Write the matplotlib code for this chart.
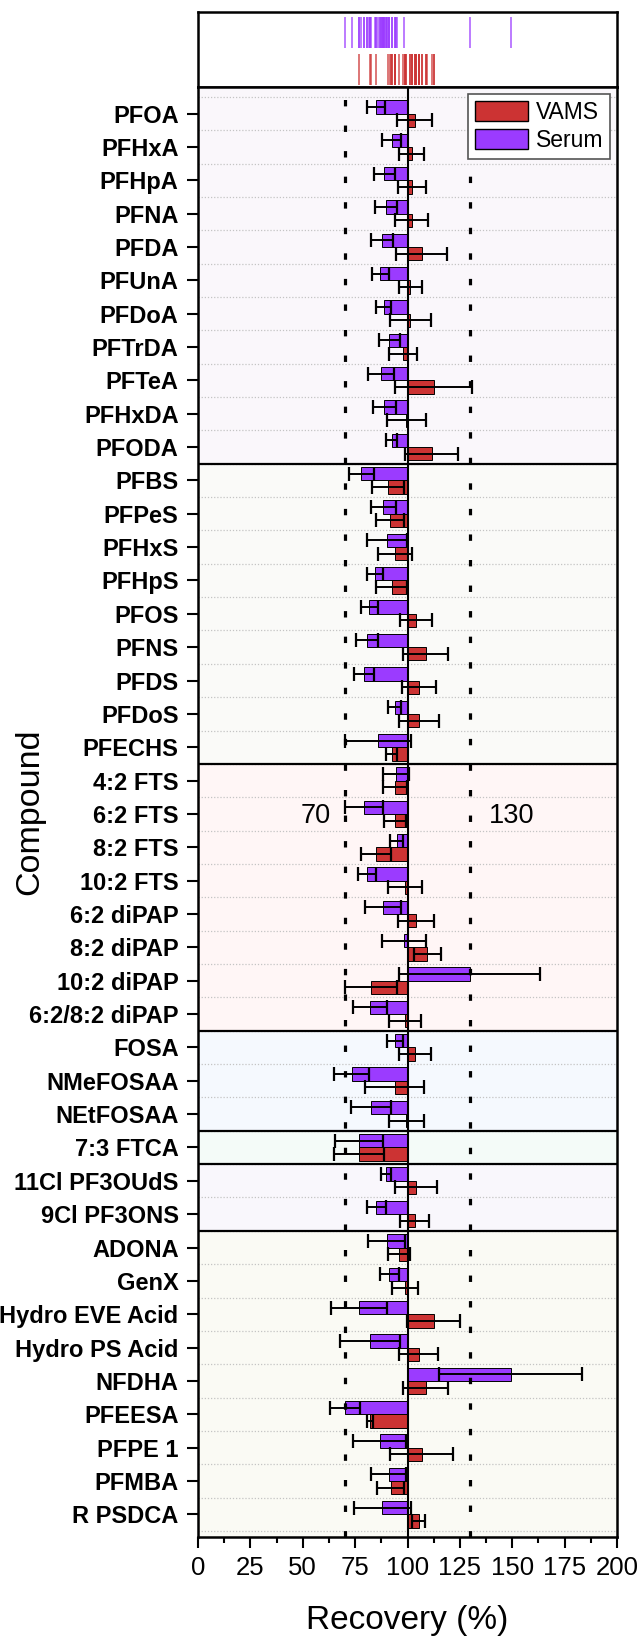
import numpy as np
import matplotlib
matplotlib.use("Agg")
import matplotlib.pyplot as plt
from matplotlib.patches import Patch

plt.rcParams['font.family'] = ['Liberation Sans', 'DejaVu Sans']

# compounds, top to bottom
compounds = ["PFOA", "PFHxA", "PFHpA", "PFNA", "PFDA", "PFUnA", "PFDoA", "PFTrDA",
             "PFTeA", "PFHxDA", "PFODA",
             "PFBS", "PFPeS", "PFHxS", "PFHpS", "PFOS", "PFNS", "PFDS", "PFDoS", "PFECHS",
             "4:2 FTS", "6:2 FTS", "8:2 FTS", "10:2 FTS", "6:2 diPAP", "8:2 diPAP",
             "10:2 diPAP", "6:2/8:2 diPAP",
             "FOSA", "NMeFOSAA", "NEtFOSAA",
             "7:3 FTCA",
             "11Cl PF3OUdS", "9Cl PF3ONS",
             "ADONA", "GenX", "Hydro EVE Acid", "Hydro PS Acid", "NFDHA", "PFEESA",
             "PFPE 1", "PFMBA", "R PSDCA"]

serum = [85.1, 92.4, 89.0, 89.8, 87.8, 87.0, 88.6, 91.4, 87.5, 89.0, 92.5,
         78.0, 88.4, 90.4, 84.7, 81.8, 80.6, 79.2, 93.9, 86.1,
         94.5, 79.2, 94.9, 80.6, 88.4, 98.4, 129.6, 82.0,
         93.9, 73.3, 82.5,
         76.9,
         89.8, 85.1,
         90.0, 91.4, 76.9, 82.0, 149.2, 70.0, 86.7, 91.0, 88.0]
serum_err = [4.2, 4.7, 5.1, 5.3, 5.1, 4.1, 3.7, 4.9, 6.2, 5.3, 2.6,
             5.9, 6.0, 9.5, 3.8, 4.1, 5.1, 4.9, 3.2, 15.7,
             6.4, 9.0, 3.1, 4.4, 8.5, 10.6, 33.6, 8.2,
             3.9, 8.5, 9.7,
             11.5,
             2.5, 4.6,
             8.9, 4.4, 13.2, 14.2, 34.2, 7.1, 12.5, 8.3, 13.7]
vams = [103.5, 102.0, 102.0, 102.0, 106.7, 101.4, 101.4, 97.8, 112.5, 99.5, 111.6,
        90.6, 91.6, 93.9, 92.4, 104.1, 108.6, 105.5, 105.5, 92.5,
        94.1, 93.9, 85.1, 98.8, 104.1, 109.4, 82.5, 98.8,
        103.5, 93.9, 99.5,
        76.9,
        104.1, 103.5,
        95.9, 98.8, 112.5, 105.3, 108.6, 82.2, 106.7, 92.0, 105.3]
vams_err = [8.3, 5.9, 6.7, 8.0, 12.0, 5.6, 9.6, 6.5, 18.3, 9.2, 12.7,
            7.5, 6.7, 8.1, 7.5, 7.8, 10.6, 8.0, 9.6, 2.6,
            5.7, 5.2, 7.1, 8.0, 8.5, 6.5, 12.3, 7.5,
            7.6, 14.2, 8.3,
            12.0,
            10.0, 7.0,
            5.1, 6.1, 12.7, 9.3, 10.9, 1.3, 15.0, 6.5, 3.2]

# compound classes (row counts) and their background shades
group_sizes = [11, 9, 8, 3, 1, 2, 9]
group_colors = ["#faf7fb", "#fafaf8", "#fff6f6", "#f5f9fe", "#f4fbf8", "#f9f7fc", "#fafaf4"]

xticks = [0, 25, 50, 75, 100, 125, 150, 175, 200]

red = "#cc3333"
purple = "#9b3bff"

W, H = 642, 1637
fig = plt.figure(figsize=(W / 100, H / 100), dpi=100)
L, R = 198, 617
ax_top = fig.add_axes([L / W, 1 - 87 / H, (R - L) / W, 74.5 / H])
ax = fig.add_axes([L / W, 1 - 1537 / H, (R - L) / W, (1537 - 86.5) / H])

n = len(compounds)
y = np.arange(n)

# background bands and class separators
start = 0
for size, col in zip(group_sizes, group_colors):
    ax.axhspan(start - 0.5 if start else -0.81, start + size - 0.5 if start + size < n else 42.68,
               color=col, zorder=0, lw=0)
    if start + size < n:
        ax.axhline(start + size - 0.5, color="black", lw=1.6, zorder=4)
    start += size

# dotted grid between rows
ax.hlines(np.arange(n + 1) - 0.5, 0, 200, colors="#c4c4c4", linestyles=(0, (1, 1.5)),
          lw=0.9, zorder=1)

err_kw = dict(ecolor="black", elinewidth=1.4, capsize=4.8, capthick=1.6, zorder=3)
ax.barh(y - 0.2, np.array(serum) - 100, left=100, height=0.4, color=purple,
        edgecolor="black", lw=0.7, xerr=serum_err, error_kw=err_kw, zorder=2)
ax.barh(y + 0.2, np.array(vams) - 100, left=100, height=0.4, color=red,
        edgecolor="black", lw=0.7, xerr=vams_err, error_kw=err_kw, zorder=2)

ax.axvline(100, color="black", lw=1.5, zorder=5)
for xv in (70, 130):
    ax.axvline(xv, color="black", lw=2.3, ls=(0, (2, 6)), zorder=5)
ax.text(63.5, 21.05, "70", fontsize=19.5, ha="right", va="center", zorder=6)
ax.text(139, 21.05, "130", fontsize=19.5, ha="left", va="center", zorder=6)

ax.set_xlim(0, 200)
ax.set_ylim(42.68, -0.81)
ax.set_yticks(y)
ax.set_yticklabels(compounds, fontweight="bold", fontsize=17)
ax.set_xticks(xticks)
ax.set_xticks(np.array(xticks[:-1]) + 12.5, minor=True)
ax.tick_params(axis="x", which="major", direction="out", length=8, width=1.5,
               labelsize=18.5, pad=6)
ax.tick_params(axis="x", which="minor", direction="out", length=4.3, width=1.5)
ax.tick_params(axis="y", direction="out", length=8, width=1.5, pad=6)
for sp in ax.spines.values():
    sp.set_linewidth(1.8)
    sp.set_zorder(7)

leg = ax.legend(handles=[Patch(facecolor=red, edgecolor="black", label="VAMS"),
                         Patch(facecolor=purple, edgecolor="black", label="Serum")],
                loc="upper right", bbox_to_anchor=(0.995, 0.998), fontsize=16.5,
                fancybox=False, framealpha=1, edgecolor="#555555",
                handlelength=2.3, handleheight=1.0, handletextpad=0.35,
                labelspacing=0.2, borderpad=0.3, borderaxespad=0.2)
leg.get_frame().set_linewidth(1.2)
leg.set_zorder(8)

# rug of all means on top
ax_top.vlines(serum, 0.53, 0.94, colors=purple, lw=1.1, alpha=0.85)
ax_top.vlines(vams, 0.03, 0.44, colors=red, lw=1.1, alpha=0.85)
ax_top.set_xlim(0, 200)
ax_top.set_ylim(0, 1)
ax_top.set_xticks([])
ax_top.set_yticks([])
for sp in ax_top.spines.values():
    sp.set_linewidth(1.8)

fig.text(30 / W, 1 - 812 / H, "Compound", rotation=90, fontsize=24.5, ha="center", va="center")
fig.text((L + R) / 2 / W, 1 - 1629 / H, "Recovery (%)", fontsize=24, ha="center", va="baseline")

fig.savefig("out.png", dpi=100)
